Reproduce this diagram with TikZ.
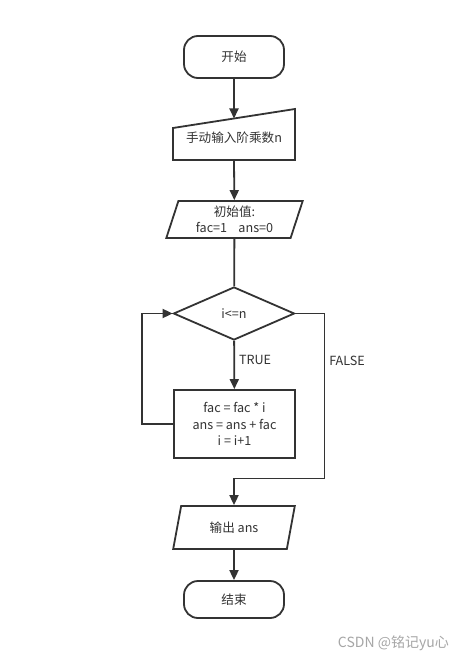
\documentclass[tikz,border=0pt]{standalone}
\usepackage{fontspec}
\setmainfont{Noto Sans CJK SC}
\usetikzlibrary{arrows.meta,shapes.geometric,calc}
\definecolor{linegray}{HTML}{333333}
\definecolor{markgray}{HTML}{A6A6A6}
\tikzset{
  flowline/.style={draw=linegray, line width=1.8pt},
  arrowline/.style={flowline, -{Triangle[length=10pt,width=9pt]}},
  flowtext/.style={text=linegray, font=\fontsize{12.6}{16.5}\selectfont, align=center, inner sep=0pt},
  terminal/.style={flowtext, flowline, rounded corners=14pt, minimum width=100pt},
  iobox/.style={flowtext, flowline, trapezium, trapezium stretches=true},
  decision/.style={flowtext, flowline, diamond, aspect=2.3, minimum width=121pt, minimum height=53pt},
  process/.style={flowtext, flowline, rectangle, minimum width=121pt, minimum height=68pt}
}

\begin{document}
\begin{tikzpicture}[x=1pt,y=-1pt]
\useasboundingbox[fill=white] (0,0) rectangle (464,660);

% shapes
\node[terminal, minimum height=42pt] (start) at (234,57) {开始};

\draw[flowline] (173,160) -- (295,160) -- (295,109) -- (173,128) -- cycle;
\node[flowtext] (input) at (234,138) {手动输入阶乘数n};
\coordinate (inputtop) at (234,118.5);
\coordinate (inputbot) at (234,160);

\node[iobox, trapezium left angle=73, trapezium right angle=107,
      minimum width=137pt, minimum height=37pt] (init) at (234.5,219.5)
      {初始值:\\fac=1\hspace{0.9em}ans=0};

\node[decision] (cond) at (234,313.5) {i<=n};

\node[process] (body) at (234.5,424) {fac = fac * i\\ans = ans + fac\\i = i+1};

\node[iobox, trapezium left angle=72.5, trapezium right angle=107.5,
      minimum width=122pt, minimum height=43pt] (output) at (234,527.5) {输出 ans};

\node[terminal, minimum height=37pt] (stop) at (234,599.5) {结束};

% connectors
\draw[arrowline] (start) -- (inputtop);
\draw[arrowline] (inputbot) -- (init);
\draw[flowline] (init) -- (cond);
\draw[arrowline] (cond) -- node[flowtext, anchor=west, pos=0.4, xshift=4pt] {TRUE} (body);
\draw[arrowline] (body.west) -- ++(-31,0) |- (cond.west);
\draw[arrowline] (cond.east) -- ++(29,0) -- node[flowtext, anchor=west, pos=0.29, xshift=4pt] {FALSE} ++(0,165) -| (output.north);
\draw[arrowline] (output) -- (stop);

\node[text=markgray, font=\fontsize{14}{16}\selectfont, anchor=east, inner sep=0pt] (mark) at (449,643) {CSDN @铭记yu心};
\end{tikzpicture}
\end{document}
